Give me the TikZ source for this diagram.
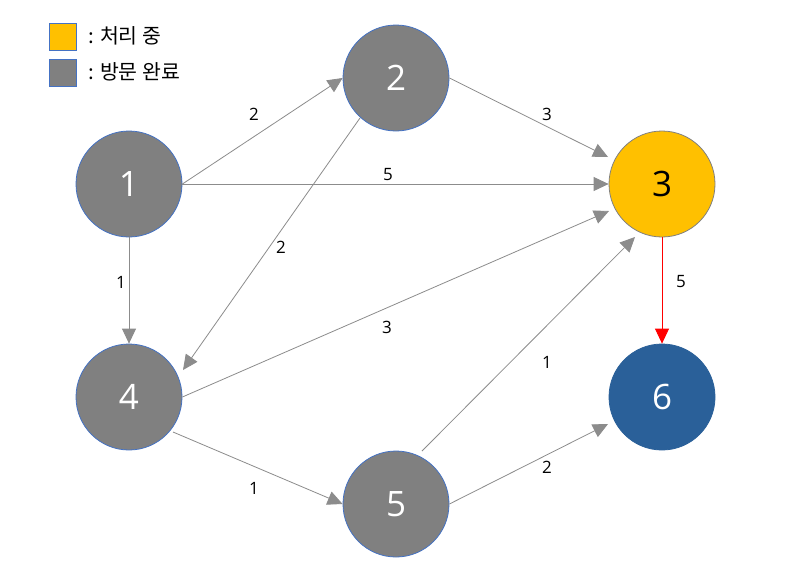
\documentclass[tikz,border=0pt]{standalone}
\usepackage{fontspec}
\setmainfont{Open Sans}
\newfontfamily\kfont{Noto Sans CJK KR}
\usetikzlibrary{arrows.meta,calc}
\definecolor{ngray}{HTML}{808080}
\definecolor{nyellow}{HTML}{FFC000}
\definecolor{nblue}{HTML}{2A6099}
\definecolor{bblue}{HTML}{4472C4}
\definecolor{egray}{HTML}{8C8C8C}
\tikzset{
  vnode/.style={circle,minimum size=106pt,inner sep=0pt,fill=ngray,draw=bblue,line width=0.8pt,text=white,font=\fontsize{35}{35}\selectfont},
  edge/.style={draw=egray,line width=0.8pt,-{Triangle[length=15pt,width=14pt]}},
  elabel/.style={font=\fontsize{17}{17}\selectfont,inner sep=0pt},
  legbox/.style={draw=bblue,line width=0.8pt,minimum size=27pt,inner sep=0pt},
  legtext/.style={anchor=west,font=\kfont\fontsize{20.5}{20.5}\selectfont,inner sep=0pt}
}
\begin{document}
\begin{tikzpicture}[x=1pt,y=-1pt]
\useasboundingbox[fill=white] (0,0) rectangle (791,579);
% legend
\node[legbox,fill=nyellow] (ly) at (63,37) {};
\node[legbox,fill=ngray] (lg) at (63,73) {};
\node[legtext] (lty) at (88,36) {: 처리 중};
\node[legtext] (ltg) at (88,72) {: 방문 완료};
% nodes
\node[vnode] (n1) at (129,184) {1};
\node[vnode] (n2) at (396,78) {2};
\node[vnode,fill=nyellow,draw=ngray,text=black] (n3) at (662,184) {3};
\node[vnode] (n4) at (129,397) {4};
\node[vnode] (n5) at (396,504) {5};
\node[vnode,fill=nblue,draw=nblue] (n6) at (662,397) {6};
% edges
\draw[edge] (n1.east) -- (n2.west);
\draw[edge] (n1.east) -- (n3.west);
\draw[edge] (n2.east) -- ($(n3.center)+(-54,-27)$);
\draw[edge] ($(n2.center)+(-36,40)$) -- ($(n4.center)+(54,-27)$);
\draw[edge] (n1.south) -- (n4.north);
\draw[edge] (n4.east) -- ($(n3.center)+(-53,27)$);
\draw[edge] ($(n4.center)+(44,35)$) -- (n5.west);
\draw[edge] ($(n5.center)+(26,-53)$) -- ($(n3.center)+(-27,53)$);
\draw[edge] (n5.east) -- ($(n6.center)+(-54,27)$);
\draw[edge,draw=red,-{Triangle[length=15pt,width=14pt]},red] (n3.south) -- (n6.north);
% labels
\node[elabel] (l12) at (254,114) {2};
\node[elabel] (l13) at (388,175) {5};
\node[elabel] (l23) at (547,114) {3};
\node[elabel] (l24) at (281,247) {2};
\node[elabel] (l14) at (121,282) {1};
\node[elabel] (l43) at (387,327) {3};
\node[elabel] (l53) at (547,362) {1};
\node[elabel] (l36) at (681,282) {5};
\node[elabel] (l45) at (254,488) {1};
\node[elabel] (l56) at (547,467) {2};
\end{tikzpicture}
\end{document}
